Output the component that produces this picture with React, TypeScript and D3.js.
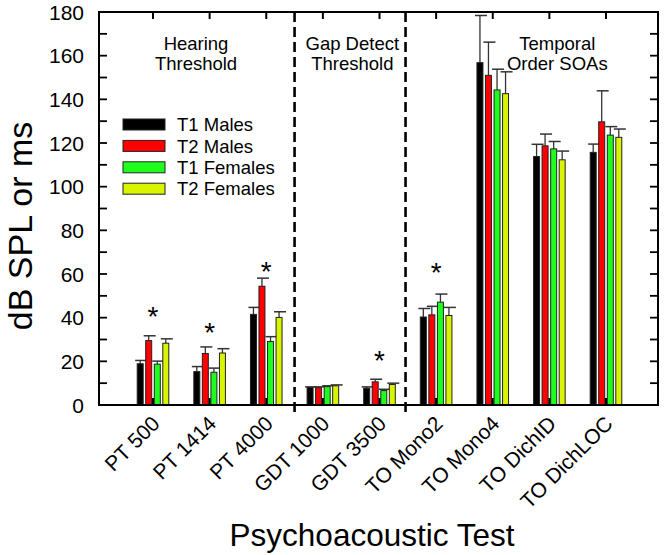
import React from "react";
import * as d3 from "d3";

const categories = ["PT 500", "PT 1414", "PT 4000", "GDT 1000", "GDT 3500", "TO Mono2", "TO Mono4", "TO DichID", "TO DichLOC"];
const seriesNames = ["T1 Males", "T2 Males", "T1 Females", "T2 Females"];
const seriesColors = ["#000000", "#ff0000", "#1eff1e", "#d8f400"];

const t1Males = [18.9, 15.3, 41.5, 8.0, 7.7, 40.3, 156.8, 113.8, 115.7];
const t1MalesErr = [1.5, 2.3, 3.2, 0.3, 0.6, 3.9, 21.6, 5.6, 3.8];
const t2Males = [29.5, 23.6, 54.4, 7.9, 10.6, 41.3, 151.0, 118.7, 129.7];
const t2MalesErr = [2.2, 3.0, 3.7, 0.4, 1.2, 3.9, 15.2, 5.4, 14.2];
const t1Females = [18.7, 15.0, 29.1, 8.4, 6.6, 47.1, 144.3, 117.3, 123.6];
const t1FemalesErr = [1.4, 1.9, 2.2, 0.4, 0.6, 3.7, 9.5, 3.4, 3.9];
const t2Females = [28.3, 23.8, 40.1, 8.8, 9.4, 41.0, 142.6, 112.3, 122.6];
const t2FemalesErr = [2.0, 2.0, 2.6, 0.4, 0.6, 3.7, 10.0, 4.0, 3.8];

const starValues = [43, 35.8, 63.6, null, 23, 63.3, null, null, null];

const sectionTitles = [["Hearing", "Threshold"], ["Gap Detect", "Threshold"], ["Temporal", "Order SOAs"]];
const sectionCenters = [0.76, 3.52, 7.14];
const dividers = [2.5, 4.46];

const yTicks = d3.range(0, 181, 20);
const yMinor = d3.range(0, 181, 10);

const W = 664;
const H = 555;
const left = 99;
const right = 658;
const top = 12;
const bottom = 405;

const FONT = "Liberation Sans, Arial, Helvetica, sans-serif";

export default function App() {
  const x = d3.scaleLinear().domain([0, 8]).range([153, 606]);
  const y = d3.scaleLinear().domain([0, 180]).range([bottom, top]);
  const values = [t1Males, t2Males, t1Females, t2Females];
  const errs = [t1MalesErr, t2MalesErr, t1FemalesErr, t2FemalesErr];
  const offsets = [-12.8, -4.3, 4.3, 12.8];
  const bw = 6;
  const capW = 12;

  return (
    <svg width={W} height={H} style={{ position: "absolute", left: 0, top: 0, background: "#fff" }} fontFamily={FONT}>
      <rect x={0} y={0} width={W} height={H} fill="#fff" />
      {/* dividers */}
      {dividers.map((d, i) => (
        <line key={"dv" + i} x1={x(d)} x2={x(d)} y1={top} y2={bottom + 7} stroke="#000" strokeWidth={2.6} strokeDasharray="10,5" />
      ))}
      {/* bars */}
      {values.map((vals, s) =>
        vals.map((v, i) => {
          const cx = x(i) + offsets[s];
          const e = errs[s][i];
          return (
            <g key={`b${s}-${i}`}>
              <line x1={cx} x2={cx} y1={y(v)} y2={y(v + e)} stroke="#333" strokeWidth={1.3} />
              <line x1={cx - capW / 2 + 1} x2={cx + capW / 2 + 1} y1={y(v + e)} y2={y(v + e)} stroke="#333" strokeWidth={1.5} />
              <rect x={cx - bw / 2} y={y(v)} width={bw} height={y(0) - y(v)} fill={seriesColors[s]} stroke="#222" strokeWidth={1} />
            </g>
          );
        })
      )}
      {/* stars */}
      {starValues.map((v, i) =>
        v == null ? null : (
          <text key={"st" + i} x={x(i)} y={y(v) + 15} textAnchor="middle" fontSize={28} fill="#000">
            *
          </text>
        )
      )}
      {/* frame */}
      <rect x={left} y={top} width={right - left} height={bottom - top} fill="none" stroke="#000" strokeWidth={2} />
      {/* y ticks left & right */}
      {yMinor.map((t) => (
        <g key={"yt" + t}>
          <line x1={left} x2={left + 8} y1={y(t)} y2={y(t)} stroke="#000" strokeWidth={1.8} />
          <line x1={right} x2={right - 8} y1={y(t)} y2={y(t)} stroke="#000" strokeWidth={1.8} />
        </g>
      ))}
      {yTicks.map((t) => (
        <text key={"yl" + t} x={left - 15} y={y(t)} dy="0.36em" textAnchor="end" fontSize={21} fill="#000">
          {t}
        </text>
      ))}
      {/* x ticks top & bottom */}
      {categories.map((c, i) => (
        <g key={"xt" + i}>
          <line x1={x(i)} x2={x(i)} y1={bottom} y2={bottom - 7} stroke="#000" strokeWidth={2} />
          <line x1={x(i)} x2={x(i)} y1={top} y2={top + 7} stroke="#000" strokeWidth={2} />
          <text transform={`translate(${x(i) + 8},${bottom + 20}) rotate(-45)`} textAnchor="end" fontSize={21} fill="#000">
            {c}
          </text>
        </g>
      ))}
      {/* section titles */}
      {sectionTitles.map((lines, i) => (
        <text key={"sec" + i} x={x(sectionCenters[i])} y={50} textAnchor="middle" fontSize={18.5} fill="#000">
          {lines.map((l, j) => (
            <tspan key={j} x={x(sectionCenters[i])} dy={j === 0 ? 0 : 20}>
              {l}
            </tspan>
          ))}
        </text>
      ))}
      {/* legend */}
      {seriesNames.map((n, i) => (
        <g key={"lg" + i} transform={`translate(123,${119 + i * 21.4})`}>
          <rect x={0} y={0} width={42} height={11} fill={seriesColors[i]} stroke="#222" strokeWidth={1} />
          <text x={54} y={5.5} dy="0.36em" fontSize={18.5} fill="#000">
            {n}
          </text>
        </g>
      ))}
      {/* axis titles */}
      <text transform={`translate(${32},${226}) rotate(-90)`} textAnchor="middle" fontSize={34} fill="#000">
        dB SPL or ms
      </text>
      <text x={372} y={546} textAnchor="middle" fontSize={31.5} fill="#000">
        Psychoacoustic Test
      </text>
    </svg>
  );
}
